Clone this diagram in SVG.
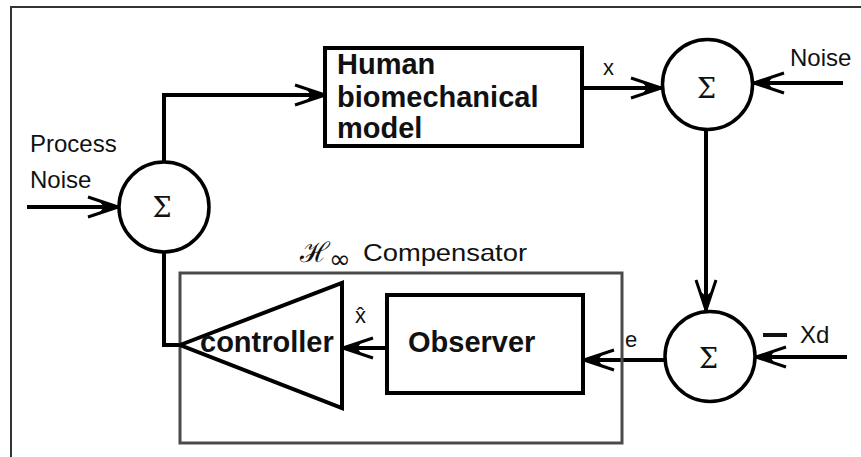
<svg xmlns="http://www.w3.org/2000/svg" width="861" height="457" viewBox="0 0 861 457">
  <style>
    .bg { fill: #ffffff; }
    .frame { fill: none; stroke: #333333; stroke-width: 2; }
    .box { fill: #ffffff; stroke: #000000; stroke-width: 4; }
    .sum { fill: #ffffff; stroke: #000000; stroke-width: 3.5; }
    .group { fill: none; stroke: #4a4a4a; stroke-width: 3; }
    .wire { fill: none; stroke: #000000; stroke-width: 4; stroke-linejoin: miter; }
    .bold { font-family: "Liberation Sans", Arial, sans-serif; font-weight: bold; font-size: 29px; fill: #111111; }
    .label { font-family: "Liberation Sans", Arial, sans-serif; font-size: 24px; fill: #111111; }
    .small { font-family: "Liberation Sans", Arial, sans-serif; font-size: 22px; fill: #111111; }
    .sigma { font-family: "DejaVu Serif", "Liberation Serif", serif; font-size: 27px; fill: #111111; text-anchor: middle; }
  </style>
  <defs>
    <marker id="barb" markerUnits="userSpaceOnUse" orient="auto" markerWidth="40" markerHeight="30" refX="0" refY="0" viewBox="-34 -15 40 30" overflow="visible">
      <path d="M0,0 L-30,-10 M0,0 L-30,10" fill="none" stroke="#000000" stroke-width="3"/>
      <path d="M0,0 L-18,-5 L-14,0 L-18,5 Z" fill="#000000"/>
    </marker>
  </defs>

  <rect class="bg" x="0" y="0" width="861" height="457"/>
  <!-- outer border (top and left edges) -->
  <path class="frame" d="M11,457 L11,7 L861,7"/>

  <!-- connectors -->
  <g id="connectors">
    <path class="wire" d="M27,207 L118,207" marker-end="url(#barb)"/>
    <path class="wire" d="M164,162 L164,95 L325,95" marker-end="url(#barb)"/>
    <path class="wire" d="M582,88 L661,88" marker-end="url(#barb)"/>
    <path class="wire" d="M843,83 L754,83" marker-end="url(#barb)"/>
    <path class="wire" d="M706,130 L706,310" marker-end="url(#barb)"/>
    <path class="wire" d="M847,357 L756,357" marker-end="url(#barb)"/>
    <path class="wire" d="M665,360 L584,360" marker-end="url(#barb)"/>
    <path class="wire" d="M387,348 L343,348" marker-end="url(#barb)"/>
    <path class="wire" d="M164,252 L164,345 L182,345"/>
  </g>

  <!-- H-infinity compensator enclosure -->
  <g id="compensator">
    <rect class="group" x="180" y="273" width="442" height="170"/>
    <text x="300" y="262" font-family="'DejaVu Serif', serif" font-size="28" fill="#111111">ℋ</text>
    <text x="329" y="268" font-family="'DejaVu Sans', sans-serif" font-size="26" fill="#111111">∞</text>
    <text class="label" x="363" y="261" textLength="164" lengthAdjust="spacingAndGlyphs">Compensator</text>
  </g>

  <g id="process-noise-label">
    <text class="label" x="30" y="152">Process</text>
    <text class="label" x="30" y="188">Noise</text>
  </g>

  <g id="sum-input">
    <circle class="sum" cx="164" cy="207" r="45"/>
    <text class="sigma" x="162" y="217">Σ</text>
  </g>

  <g id="plant">
    <rect class="box" x="325" y="48" width="257" height="98"/>
    <text class="bold" x="337" y="74">Human</text>
    <text class="bold" x="337" y="107">biomechanical</text>
    <text class="bold" x="337" y="138">model</text>
  </g>

  <g id="state-label">
    <text class="small" x="603" y="75">x</text>
  </g>

  <g id="sum-noise">
    <circle class="sum" cx="707.5" cy="84.5" r="45"/>
    <text class="sigma" x="706.5" y="98">Σ</text>
    <text class="label" x="790" y="66">Noise</text>
  </g>

  <g id="sum-error">
    <circle class="sum" cx="710" cy="356.5" r="45"/>
    <text class="sigma" x="708.5" y="368">Σ</text>
    <rect x="763" y="333" width="24" height="4" fill="#111111"/>
    <text class="label" x="800" y="343">Xd</text>
    <text class="small" x="625" y="347">e</text>
  </g>

  <g id="observer">
    <rect class="box" x="387" y="295" width="196" height="98"/>
    <text class="bold" x="408" y="352">Observer</text>
  </g>

  <g id="estimate-label">
    <text class="small" x="355" y="323" font-size="23">x̂</text>
  </g>

  <g id="controller">
    <path class="box" d="M180,345 L342,283 L342,408 Z" fill="none"/>
    <text class="bold" x="200" y="352">controller</text>
  </g>
</svg>
